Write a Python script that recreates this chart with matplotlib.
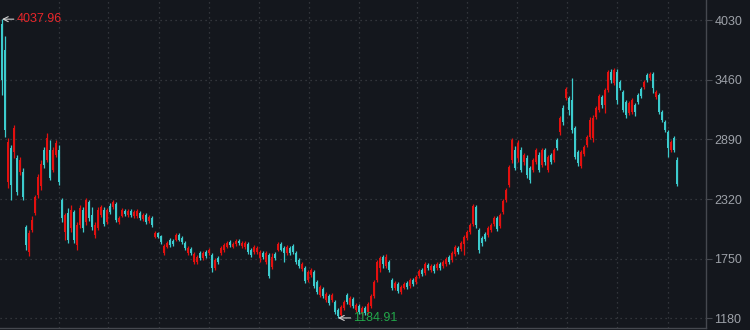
import matplotlib
matplotlib.use('Agg')
import matplotlib.pyplot as plt
import numpy as np

plt.rcParams['font.family'] = ['Liberation Sans', 'DejaVu Sans']

# weekly index candles, oldest first
opens = [
    3992, 3744, 2483, 2808, 2770, 2712, 2579, 2579, 2053, 1814,
    2025, 2187, 2359, 2445, 2789, 2693, 2789, 2598, 2741, 2789,
    2311, 2005, 2187, 2044, 2196, 1881, 2072, 2216, 2101, 2292,
    2168, 1977, 2044, 2168, 2216, 2101, 2254, 2244, 2273, 2101,
    2158, 2206, 2168, 2206, 2158, 2158, 2187, 2130, 2168, 2110,
    2139, 1958, 1996, 1967, 1805, 1862, 1929, 1919, 1929, 1977,
    1948, 1900, 1805, 1843, 1719, 1719, 1805, 1757, 1814, 1805,
    1786, 1662, 1757, 1805, 1834, 1862, 1910, 1862, 1891, 1919,
    1872, 1862, 1891, 1834, 1814, 1814, 1757, 1805, 1719, 1786,
    1671, 1795, 1834, 1891, 1853, 1805, 1853, 1872, 1805, 1738,
    1652, 1662, 1547, 1595, 1623, 1528, 1404, 1461, 1356, 1394,
    1356, 1337, 1261, 1213, 1280, 1404, 1308, 1366, 1261, 1299,
    1232, 1280, 1241, 1299, 1394, 1547, 1662, 1767, 1681, 1719,
    1547, 1471, 1509, 1432, 1471, 1518, 1490, 1547, 1528, 1585,
    1643, 1614, 1690, 1643, 1681, 1662, 1700, 1681, 1700, 1767,
    1738, 1795, 1853, 1843, 1891, 1948, 2005, 2082, 2244, 2025,
    1948, 1986, 1977, 2025, 2082, 2139, 2063, 2196, 2311, 2454,
    2693, 2789, 2712, 2789, 2674, 2712, 2617, 2598, 2674, 2741,
    2645, 2789, 2598, 2741, 2693, 2884, 2960, 3190, 3285, 3285,
    3266, 2998, 2770, 2636, 2751, 2836, 2913, 2903, 3104, 3171,
    3295, 3218, 3362, 3533, 3428, 3533, 3438, 3342, 3247, 3142,
    3151, 3218, 3314, 3371, 3390, 3505, 3476, 3514, 3295, 3314,
    3151, 3056, 2960, 2789, 2903, 2693,
]
highs = [
    4037.96, 3877, 2903, 2836, 3027, 2741, 2722, 2617, 2072, 2025,
    2158, 2359, 2559, 2693, 2817, 2951, 2884, 2817, 2884, 2836,
    2330, 2187, 2235, 2263, 2216, 2101, 2263, 2244, 2330, 2311,
    2244, 2101, 2244, 2263, 2244, 2235, 2282, 2311, 2292, 2158,
    2235, 2225, 2225, 2225, 2216, 2225, 2206, 2187, 2187, 2168,
    2158, 2015, 2005, 1977, 1891, 1919, 1948, 1939, 1996, 1996,
    1967, 1919, 1872, 1862, 1814, 1786, 1824, 1824, 1834, 1853,
    1805, 1757, 1776, 1872, 1900, 1919, 1929, 1910, 1939, 1939,
    1919, 1919, 1910, 1853, 1881, 1872, 1834, 1824, 1824, 1805,
    1805, 1814, 1910, 1910, 1872, 1881, 1872, 1891, 1824, 1757,
    1719, 1681, 1643, 1662, 1643, 1547, 1499, 1480, 1432, 1413,
    1423, 1356, 1280, 1308, 1356, 1423, 1394, 1385, 1327, 1318,
    1299, 1299, 1337, 1413, 1547, 1738, 1776, 1786, 1795, 1738,
    1566, 1537, 1528, 1499, 1528, 1537, 1566, 1566, 1595, 1652,
    1662, 1719, 1710, 1700, 1700, 1719, 1719, 1738, 1767, 1786,
    1824, 1881, 1872, 1919, 1977, 2025, 2091, 2273, 2263, 2044,
    1967, 2005, 2063, 2091, 2158, 2158, 2187, 2321, 2426, 2645,
    2903, 2827, 2884, 2817, 2760, 2741, 2636, 2712, 2808, 2770,
    2808, 2808, 2741, 2760, 2808, 2903, 3113, 3218, 3390, 3304,
    3476, 3018, 2789, 2789, 2836, 2932, 3104, 3123, 3209, 3323,
    3314, 3381, 3553, 3562, 3572, 3562, 3457, 3362, 3266, 3256,
    3285, 3237, 3333, 3390, 3457, 3524, 3533, 3533, 3362, 3333,
    3171, 3075, 2980, 2884, 2922, 2722,
]
lows = [
    3314, 2913, 2426, 2311, 2712, 2359, 2550, 2311, 1834, 1776,
    2005, 2168, 2330, 2407, 2617, 2674, 2502, 2579, 2722, 2454,
    2101, 1929, 1900, 2005, 1900, 1834, 2044, 2005, 2072, 2110,
    2025, 1948, 2025, 2149, 2063, 2082, 2177, 2225, 2101, 2082,
    2149, 2158, 2149, 2149, 2139, 2139, 2120, 2110, 2082, 2091,
    2053, 1948, 1948, 1891, 1786, 1853, 1862, 1872, 1919, 1919,
    1891, 1834, 1786, 1786, 1700, 1700, 1738, 1738, 1757, 1786,
    1623, 1643, 1700, 1786, 1814, 1853, 1862, 1853, 1872, 1881,
    1853, 1843, 1795, 1767, 1795, 1795, 1719, 1748, 1700, 1566,
    1652, 1738, 1824, 1824, 1719, 1786, 1786, 1795, 1700, 1662,
    1633, 1518, 1528, 1576, 1471, 1413, 1385, 1375, 1337, 1308,
    1337, 1222, 1184.91, 1194, 1261, 1318, 1289, 1280, 1241, 1222,
    1213, 1213, 1222, 1280, 1375, 1528, 1623, 1662, 1662, 1623,
    1452, 1452, 1423, 1413, 1461, 1461, 1471, 1490, 1509, 1566,
    1585, 1595, 1643, 1623, 1614, 1643, 1643, 1662, 1681, 1700,
    1719, 1776, 1795, 1824, 1786, 1929, 1986, 2063, 2044, 1805,
    1872, 1919, 1958, 2005, 2063, 2015, 2044, 2177, 2292, 2435,
    2665, 2598, 2674, 2579, 2645, 2521, 2473, 2579, 2655, 2579,
    2626, 2645, 2579, 2655, 2674, 2789, 2932, 3027, 3266, 3123,
    2951, 2703, 2636, 2617, 2731, 2817, 2894, 2865, 3085, 3151,
    3190, 3142, 3342, 3428, 3409, 3228, 3362, 3151, 3094, 3123,
    3132, 3113, 3228, 3285, 3371, 3438, 3457, 3333, 3276, 3132,
    3056, 2960, 2722, 2770, 2770, 2445,
]
closes = [
    3457, 2980, 2865, 2454, 2998, 2387, 2693, 2340, 1881, 1996,
    2120, 2340, 2531, 2655, 2645, 2903, 2521, 2789, 2856, 2483,
    2139, 2168, 1929, 2216, 1929, 2072, 2235, 2044, 2311, 2139,
    2053, 2072, 2216, 2244, 2082, 2216, 2196, 2292, 2120, 2139,
    2216, 2177, 2206, 2168, 2196, 2206, 2139, 2168, 2101, 2149,
    2072, 1996, 1958, 1910, 1872, 1900, 1881, 1891, 1977, 1929,
    1910, 1853, 1853, 1805, 1795, 1767, 1757, 1805, 1776, 1834,
    1662, 1738, 1719, 1853, 1881, 1900, 1881, 1891, 1919, 1900,
    1900, 1900, 1814, 1786, 1862, 1853, 1814, 1767, 1805, 1585,
    1767, 1757, 1891, 1834, 1805, 1862, 1805, 1814, 1719, 1681,
    1700, 1537, 1623, 1643, 1490, 1432, 1480, 1394, 1413, 1327,
    1404, 1241, 1203, 1289, 1337, 1337, 1375, 1299, 1308, 1241,
    1280, 1232, 1318, 1394, 1528, 1719, 1757, 1700, 1767, 1643,
    1471, 1518, 1442, 1480, 1509, 1480, 1547, 1509, 1576, 1633,
    1604, 1700, 1662, 1681, 1633, 1700, 1662, 1719, 1748, 1719,
    1805, 1862, 1814, 1900, 1958, 2005, 2072, 2254, 2072, 1834,
    1900, 1939, 2044, 2072, 2139, 2034, 2168, 2301, 2407, 2626,
    2884, 2617, 2856, 2598, 2741, 2550, 2502, 2693, 2789, 2598,
    2789, 2674, 2722, 2674, 2789, 2808, 3094, 3056, 3371, 3171,
    2980, 2722, 2665, 2770, 2817, 2913, 3075, 3094, 3190, 3304,
    3218, 3362, 3533, 3457, 3553, 3266, 3381, 3171, 3123, 3237,
    3266, 3151, 3247, 3304, 3438, 3457, 3514, 3381, 3342, 3151,
    3075, 2980, 2808, 2865, 2789, 2464,
]

y_ticks = [1180, 1750, 2320, 2890, 3460, 4030]
# period separators (candle index)
period_lines = [19, 35.3, 52.3, 69, 85.7, 102.3, 119, 138.3, 155, 171.7, 188.3, 205, 222]

BG = '#14171d'
UP = '#e3100f'
DOWN = '#3ccbcd'
GRID = '#3c3f46'
AXIS = '#45484f'

fig = plt.figure(figsize=(7.5, 3.3), dpi=100, facecolor=BG)
ax = fig.add_axes([0, 2 / 330, 706 / 750, 328 / 330], facecolor=BG)

o = np.array(opens, dtype=float)
h = np.array(highs, dtype=float)
l = np.array(lows, dtype=float)
c = np.array(closes, dtype=float)
x = np.arange(len(c))
colors = np.where(c >= o, UP, DOWN)

# grid first
for yv in y_ticks:
    ax.axhline(yv, color=GRID, lw=0.9, ls=(0, (1, 3)), zorder=0)
for xv in period_lines:
    ax.axvline(xv, color=GRID, lw=0.9, ls=(0, (1, 3)), zorder=0)

# candles
ax.vlines(x, l, h, colors=colors, lw=0.9, zorder=2)
ax.bar(x, np.maximum(np.abs(c - o), 4), bottom=np.minimum(o, c), width=0.7,
       color=colors, linewidth=0, zorder=3)

# high / low markers
i_hi = int(np.argmax(h))
i_lo = int(np.argmin(l))
ax.annotate(f'{h[i_hi]:.2f}', xy=(i_hi, h[i_hi]), xytext=(10.5, 0),
            textcoords='offset points', color='#e8262a', fontsize=9,
            ha='left', va='center',
            arrowprops=dict(arrowstyle='->', color='#d0d0d0', lw=0.8,
                            shrinkA=0, shrinkB=0))
ax.annotate(f'{l[i_lo]:.2f}', xy=(i_lo, l[i_lo]), xytext=(11, 0),
            textcoords='offset points', color='#22a84a', fontsize=9,
            ha='left', va='center',
            arrowprops=dict(arrowstyle='->', color='#d0d0d0', lw=0.8,
                            shrinkA=0, shrinkB=0))

ax.set_xlim(-0.67, 234.67)
ax.set_ylim(1089, 4221)
ax.set_xticks([])
ax.yaxis.tick_right()
ax.set_yticks(y_ticks)
ax.set_yticklabels([str(v) for v in y_ticks])
ax.tick_params(axis='y', color=AXIS, labelcolor='#9da1a8', labelsize=9,
               length=4, width=0.8, pad=2)
for side in ('left', 'top'):
    ax.spines[side].set_visible(False)
for side in ('right', 'bottom'):
    ax.spines[side].set_color(AXIS)
    ax.spines[side].set_linewidth(1.0)

fig.savefig('out.png', dpi=100, facecolor=BG)
